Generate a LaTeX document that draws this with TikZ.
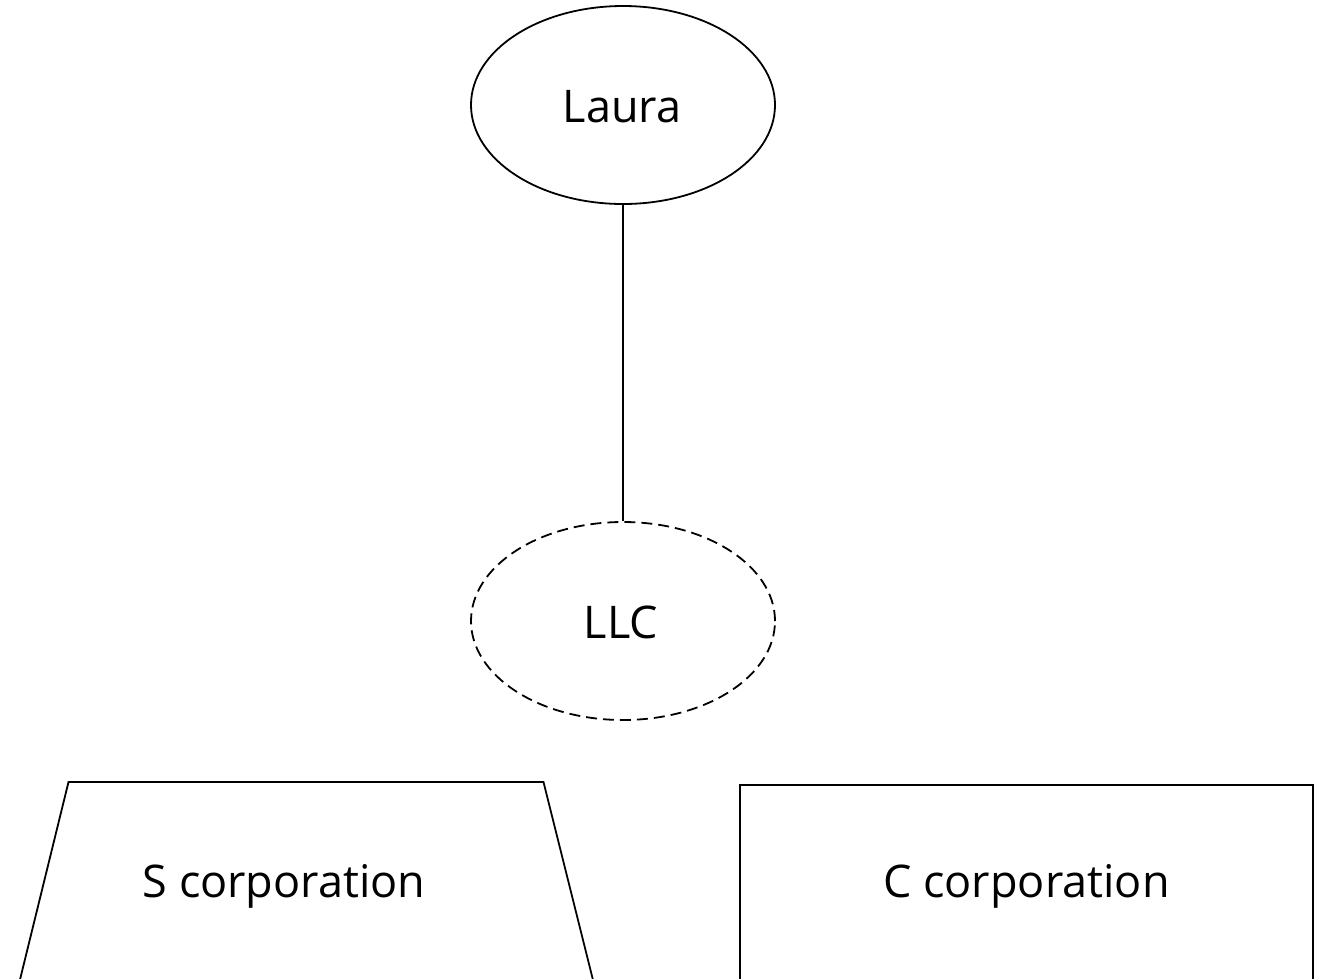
\documentclass[tikz,border=0pt]{standalone}
\usepackage{fontspec}
\setmainfont{Open Sans}
\usetikzlibrary{shapes.geometric}
\begin{document}
\begin{tikzpicture}[x=1pt,y=-1pt,
  outline/.style={draw, line width=1.8pt},
  entity/.style={outline, ellipse, minimum width=304pt, minimum height=198pt, inner sep=0pt},
  lbl/.style={font=\fontsize{45}{52}\selectfont, text height=32pt, text depth=0pt, inner sep=0pt},
  link/.style={line width=1.8pt}]
  \useasboundingbox (0,0) rectangle (1324,978);
  \clip (0,0) rectangle (1324,978);

  % owner and the LLC
  \node[entity] (laura) at (623,105) {};
  \node[lbl] (lauratext) at (622,106) {Laura};
  \node[entity, dash pattern=on 11pt off 6pt] (llc) at (623,621) {};
  \node[lbl] (llctext) at (621,622) {LLC};
  \draw[link] (laura.south) -- (llc.north);

  % S corporation: trapezoid running off the lower edge
  \coordinate (stl) at (68.5,782);
  \coordinate (str) at (543.5,782);
  \coordinate (sbl) at (15,1000);
  \coordinate (sbr) at (598,1000);
  \draw[outline, line join=miter] (sbl) -- (stl) -- (str) -- (sbr);
  \node[lbl] (scorp) at (284,881) {S corporation};

  % C corporation: box running off the lower edge
  \coordinate (ctl) at (740,785);
  \coordinate (cbr) at (1313,1000);
  \draw[outline] (ctl) rectangle (cbr);
  \node[lbl] (ccorp) at (1026.5,881) {C corporation};
\end{tikzpicture}
\end{document}
